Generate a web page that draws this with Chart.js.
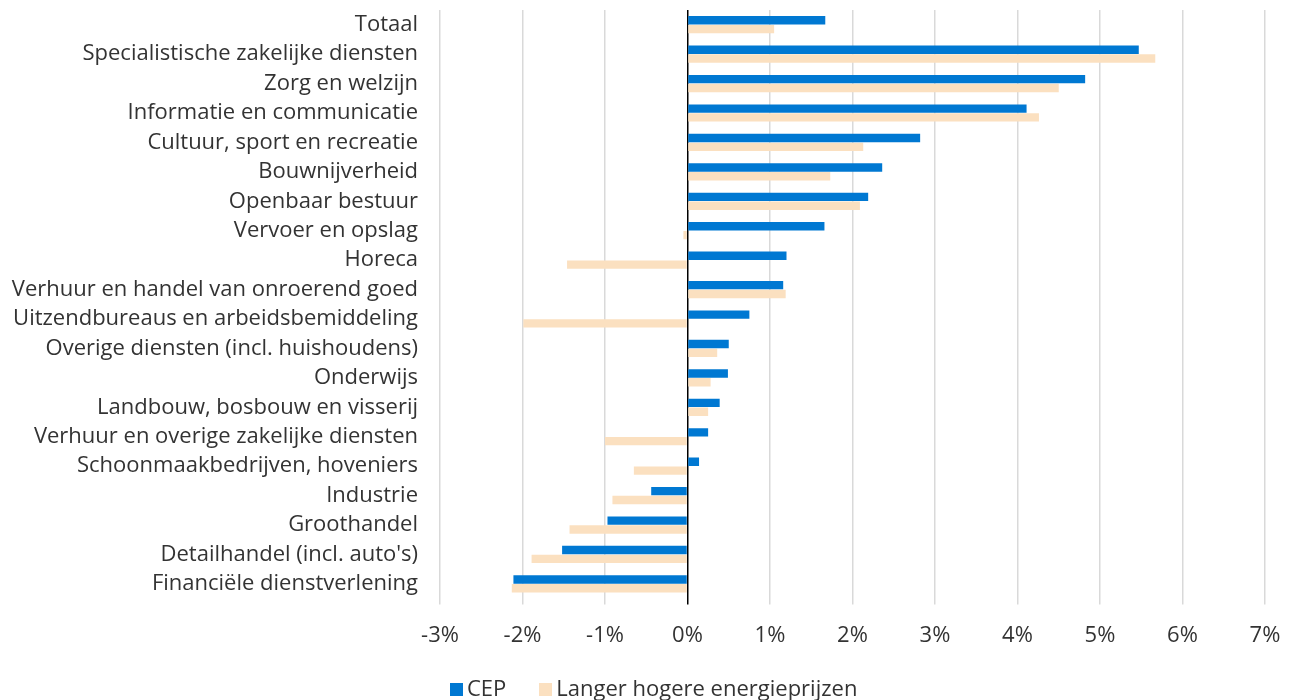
<!DOCTYPE html>
<html>
<head>
<meta charset="utf-8">
<script src="https://cdn.jsdelivr.net/npm/chart.js@4"></script>
<style>
  html, body { margin: 0; padding: 0; background: #fff; overflow: hidden; }
  #wrap { position: relative; width: 1289px; height: 700px; }
  #legend {
    position: absolute; left: 450px; top: 672px;
    font-family: 'Open Sans', sans-serif; font-size: 22px; color: #333;
    display: flex; align-items: center; white-space: nowrap; line-height: 30px;
  }
  #legend .sw { display: inline-block; width: 13px; height: 13px; margin-right: 4px; margin-top: 4px; }
  #legend .item { display: flex; align-items: center; margin-right: 33px; }
</style>
</head>
<body>
<div id="wrap">
  <canvas id="chart" width="1289" height="700"></canvas>
  <div id="legend"></div>
</div>
<script>
// sectors, top to bottom
const sectors = [
    'Totaal',
    'Specialistische zakelijke diensten',
    'Zorg en welzijn',
    'Informatie en communicatie',
    'Cultuur, sport en recreatie',
    'Bouwnijverheid',
    'Openbaar bestuur',
    'Vervoer en opslag',
    'Horeca',
    'Verhuur en handel van onroerend goed',
    'Uitzendbureaus en arbeidsbemiddeling',
    'Overige diensten (incl. huishoudens)',
    'Onderwijs',
    'Landbouw, bosbouw en visserij',
    'Verhuur en overige zakelijke diensten',
    'Schoonmaakbedrijven, hoveniers',
    'Industrie',
    'Groothandel',
    "Detailhandel (incl. auto's)",
    'Financiële dienstverlening'
];

// employment growth, %
const cep = [1.67, 5.47, 4.82, 4.11, 2.82, 2.36, 2.19, 1.66, 1.20, 1.16,
             0.75, 0.50, 0.49, 0.39, 0.25, 0.14, -0.44, -0.97, -1.52, -2.11];
const langer = [1.05, 5.67, 4.50, 4.26, 2.13, 1.73, 2.09, -0.05, -1.46, 1.19,
                -1.99, 0.36, 0.28, 0.25, -1.00, -0.65, -0.91, -1.43, -1.89, -2.13];

const xTicks = [-3, -2, -1, 0, 1, 2, 3, 4, 5, 6, 7];

const FONT = "'Open Sans', sans-serif";
const TEXT = '#333333';

const chart = new Chart(document.getElementById('chart'), {
    type: 'bar',
    data: {
        labels: sectors,
        datasets: [
            { label: 'CEP', data: cep, backgroundColor: '#0078d2' },
            { label: 'Langer hogere energieprijzen', data: langer, backgroundColor: '#fbe0c0' }
        ]
    },
    options: {
        indexAxis: 'y',
        responsive: false,
        animation: false,
        layout: { padding: { top: 10, right: 24, left: 0, bottom: 33 } },
        datasets: { bar: { barPercentage: 0.95, categoryPercentage: 0.6 } },
        plugins: {
            tooltip: { enabled: false },
            legend: { display: false }
        },
        scales: {
            x: {
                min: -3, max: 7,
                afterBuildTicks: s => { s.ticks = xTicks.map(v => ({ value: v })); },
                afterFit: s => { s.paddingLeft = 0; s.paddingRight = 0; },
                grid: {
                    color: c => c.tick && c.tick.value === 0 ? '#000000' : '#d9d9d9',
                    lineWidth: 1.5,
                    tickLength: 6
                },
                border: { display: false },
                ticks: {
                    font: { family: FONT, size: 22 },
                    color: TEXT,
                    padding: 18,
                    callback: v => v + '%'
                }
            },
            y: {
                grid: { display: false, drawTicks: false },
                border: { display: false },
                afterFit: s => { s.width = 440; s.paddingTop = 0; s.paddingBottom = 0; },
                ticks: {
                    font: { family: FONT, size: 22 },
                    color: TEXT,
                    padding: 22,
                    autoSkip: false
                }
            }
        }
    }
});

// legend as html, from the datasets
const legend = document.getElementById('legend');
chart.data.datasets.forEach(ds => {
    const item = document.createElement('span');
    item.className = 'item';
    item.innerHTML = `<span class="sw" style="background:${ds.backgroundColor}"></span><span>${ds.label}</span>`;
    legend.appendChild(item);
});
</script>
</body>
</html>
